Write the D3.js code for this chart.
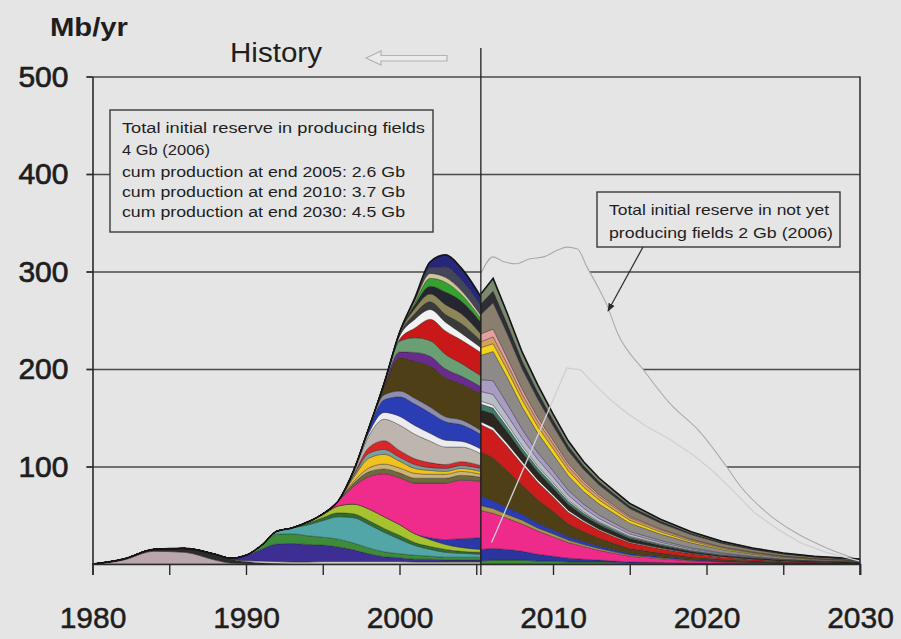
<!DOCTYPE html>
<html><head><meta charset="utf-8">
<script src="https://cdn.jsdelivr.net/npm/d3@7/dist/d3.min.js"></script>
<style>
html,body{margin:0;padding:0;background:#e5e5e5;}
svg{display:block;}
text{font-family:"Liberation Sans",Arial,sans-serif;fill:#1e1e1e;}
</style></head><body>
<svg id="chart" width="901" height="639"></svg>
<script>
// ---- producing fields, history (to end of 2005), Mb/yr, bottom of stack first ----
const histYears = [1980, 1982, 1984, 1986, 1988, 1989, 1990, 1991, 1992, 1993, 1994, 1995, 1996, 1997, 1998, 1999, 2000, 2001, 2002, 2003, 2004, 2005.3];
const hRoseGray  = [0, 4, 13, 12, 4, 1, 0.5, 0, 0, 0, 0, 0, 0, 0, 0, 0, 0, 0, 0, 0, 0, 0];
const hDark      = [0, 1, 2, 4, 6, 4, 2, 1, 0.5, 0, 0, 0, 0, 0, 0, 0, 0, 0, 0, 0, 0, 0];
const hBeige     = [0, 0, 0, 0, 0, 0, 1, 2, 2, 2, 2, 2.5, 2.5, 2.5, 2.5, 2.5, 2.5, 2, 2, 2, 2, 2];
const hNavy      = [0, 0, 0, 0, 0, 1, 5, 12, 18, 19, 18, 17, 15, 12, 8, 5, 4, 3, 3, 2, 2, 2];
const hGreen     = [0, 0, 0, 0, 0, 0, 0.5, 4, 10, 10, 9, 8, 8, 7, 6, 5, 4, 4, 3, 3, 3, 3];
const hTeal      = [0, 0, 0, 0, 0, 0, 0, 0, 3, 6, 11, 17, 23, 26, 24, 20, 15, 10, 7, 5, 4, 3];
const hDkGreen   = [0, 0, 0, 0, 0, 0, 0, 0, 0, 0, 2, 3, 4, 4, 4, 4, 4, 3, 3, 3, 2, 2];
const hLime      = [0, 0, 0, 0, 0, 0, 0, 0, 0, 0, 1, 3, 7, 10, 12, 12, 11, 9, 7, 5, 4, 3];
const hBlue2     = [0, 0, 0, 0, 0, 0, 0, 0, 0, 0, 0, 0, 0, 0, 0, 0, 0, 0, 2, 5, 9, 12];
const hPink      = [0, 0, 0, 0, 0, 0, 0, 0, 0, 0, 0, 1, 5, 18, 33, 44, 48, 52, 56, 58, 60, 58];
const hOliveGray = [0, 0, 0, 0, 0, 0, 0, 0, 0, 0, 0, 0, 0, 3, 5, 5, 5, 5, 5, 5, 5, 4];
const hTan       = [0, 0, 0, 0, 0, 0, 0, 0, 0, 0, 0, 0, 0, 2, 4, 5, 5, 5, 4, 4, 4, 3];
const hGold      = [0, 0, 0, 0, 0, 0, 0, 0, 0, 0, 0, 0, 0, 4, 10, 10, 7, 5, 4, 3, 3, 3];
const hGrayTeal  = [0, 0, 0, 0, 0, 0, 0, 0, 0, 0, 0, 0, 0, 2, 5, 5, 4, 4, 3, 3, 3, 3];
const hRed       = [0, 0, 0, 0, 0, 0, 0, 0, 0, 0, 0, 0, 0, 1, 6, 9, 7, 6, 5, 4, 4, 3];
const hLightGray = [0, 0, 0, 0, 0, 0, 0, 0, 0, 0, 0, 0, 0, 2, 12, 22, 26, 25, 22, 18, 15, 12];
const hWhite     = [0, 0, 0, 0, 0, 0, 0, 0, 0, 0, 0, 0, 0, 1, 3, 7, 9, 9, 8, 7, 6, 5];
const hBlue      = [0, 0, 0, 0, 0, 0, 0, 0, 0, 0, 0, 0, 0, 1, 4, 13, 20, 22, 21, 19, 17, 15];
const hSlate     = [0, 0, 0, 0, 0, 0, 0, 0, 0, 0, 0, 0, 0, 0, 1, 5, 6, 6, 6, 5, 5, 4];
const hOliveBrn  = [0, 0, 0, 0, 0, 0, 0, 0, 0, 0, 0, 0, 0, 0, 0, 8, 34, 38, 42, 40, 37, 38];
const hPurple    = [0, 0, 0, 0, 0, 0, 0, 0, 0, 0, 0, 0, 0, 0, 0, 2, 6, 9, 10, 9, 8, 7];
const hSage      = [0, 0, 0, 0, 0, 0, 0, 0, 0, 0, 0, 0, 0, 0, 0, 2, 11, 15, 16, 15, 13, 11];
const hRed2      = [0, 0, 0, 0, 0, 0, 0, 0, 0, 0, 0, 0, 0, 0, 0, 0, 2, 10, 22, 24, 24, 24];
const hWhite2    = [0, 0, 0, 0, 0, 0, 0, 0, 0, 0, 0, 0, 0, 0, 0, 0, 3, 9, 10, 9, 7, 5];
const hDarkGray  = [0, 0, 0, 0, 0, 0, 0, 0, 0, 0, 0, 0, 0, 0, 0, 0, 2, 6, 8, 8, 10, 7];
const hKhaki     = [0, 0, 0, 0, 0, 0, 0, 0, 0, 0, 0, 0, 0, 0, 0, 0, 1, 5, 8, 10, 10, 7];
const hCharcoal  = [0, 0, 0, 0, 0, 0, 0, 0, 0, 0, 0, 0, 0, 0, 0, 0, 1, 4, 8, 13, 13, 12];
const hBrtGreen  = [0, 0, 0, 0, 0, 0, 0, 0, 0, 0, 0, 0, 0, 0, 0, 0, 0, 2, 8, 10, 7, 4];
const hBeige2    = [0, 0, 0, 0, 0, 0, 0, 0, 0, 0, 0, 0, 0, 0, 0, 0, 0, 2, 5, 5, 4, 3];
const hDkSlate   = [0, 0, 0, 0, 0, 0, 0, 0, 0, 0, 0, 0, 0, 0, 0, 0, 0, 2, 6, 11, 11, 10];
const hNavyTop   = [0, 0, 0, 0, 0, 0, 0, 0, 0, 0, 0, 0, 0, 0, 0, 0, 0, 1, 6, 12, 12, 9];

const histSeries = [hRoseGray, hDark, hBeige, hNavy, hGreen, hTeal, hDkGreen, hLime, hBlue2, hPink,
  hOliveGray, hTan, hGold, hGrayTeal, hRed, hLightGray, hWhite, hBlue, hSlate, hOliveBrn, hPurple,
  hSage, hRed2, hWhite2, hDarkGray, hKhaki, hCharcoal, hBrtGreen, hBeige2, hDkSlate, hNavyTop];
const histColors = ["#b9a7ab", "#2c2a2c", "#d9d2c4", "#3d2e93", "#3d8c3a", "#52a6a8", "#2f6e30", "#a6c22e", "#2a38a8", "#ef2b8c",
  "#6e6a3c", "#cdb27a", "#f2c21c", "#7d9f9a", "#d8262a", "#bdb5ae", "#ececf0", "#2b3db4", "#8d8fb0", "#4e3f17", "#6a2c8c",
  "#6a9f74", "#c81818", "#f2f2f2", "#3a3a3a", "#8c8658", "#262630", "#35a12e", "#cfc79a", "#44445a", "#26267a"];

// ---- producing fields, forecast from 2006 ----
const foreYears = [2005.3, 2006.1, 2007, 2008, 2009, 2010, 2011, 2012, 2013, 2014, 2015, 2017, 2019, 2021, 2023, 2025, 2027, 2030];
const fGreen     = [3, 4, 4, 4, 3, 3, 2, 2, 2, 1.5, 1, 1, 0.5, 0.5, 0.3, 0.2, 0.2, 0.1];
const fDkBlue    = [12, 12, 11, 9, 7, 5, 4, 3, 2, 1.5, 1, 0.5, 0.3, 0.2, 0.1, 0, 0, 0];
const fPink      = [40, 36, 32, 28, 24, 20, 16, 13, 10, 8, 6, 4, 2.5, 1.5, 1, 0.5, 0.3, 0.2];
const fOliveTan  = [5, 5, 4, 4, 3, 3, 2.5, 2, 2, 1.5, 1.2, 1, 0.6, 0.4, 0.3, 0.2, 0.1, 0.1];
const fBlue      = [10, 8, 7, 6, 5, 4, 3.5, 3, 2.5, 2, 1.6, 1.2, 0.8, 0.5, 0.3, 0.2, 0.1, 0.1];
const fOliveBrn  = [45, 44, 38, 30, 24, 19, 13, 10, 8, 6.5, 5, 3.5, 2.5, 1.7, 1.2, 0.8, 0.6, 0.4];
const fRed       = [28, 28, 25, 21, 18, 15, 12, 10, 8, 7, 6, 4.5, 3.2, 2.2, 1.5, 1, 0.7, 0.4];
const fWhite     = [3, 3, 3, 3, 2.5, 2, 2, 1.5, 1.2, 1, 0.8, 0.6, 0.5, 0.4, 0.3, 0.2, 0.2, 0.1];
const fDark      = [12, 14, 12, 9, 8, 7, 6, 5, 4.5, 4, 3.5, 2.6, 2, 1.4, 1, 0.7, 0.5, 0.3];
const fTealGreen = [6, 6, 5, 4.5, 4, 3.5, 3, 2.5, 2, 1.8, 1.5, 1.1, 0.8, 0.5, 0.4, 0.3, 0.2, 0.1];
const fWhite2    = [3, 3, 3, 2.5, 2, 2, 1.6, 1.3, 1, 0.9, 0.8, 0.6, 0.4, 0.3, 0.2, 0.2, 0.1, 0.1];
const fBlueGray  = [10, 11, 9, 8, 7, 6, 5, 4, 3.5, 3, 2.5, 1.8, 1.3, 0.9, 0.6, 0.4, 0.3, 0.2];
const fLilac     = [12, 14, 12, 9, 7, 6, 5, 4, 3.5, 3, 2.5, 1.8, 1.3, 0.9, 0.6, 0.4, 0.3, 0.2];
const fGray      = [25, 30, 27, 23, 20, 17, 15, 13, 11.5, 10, 8.5, 6.5, 5, 3.5, 2.5, 1.8, 1.3, 0.8];
const fYellow    = [8, 8, 7.5, 7, 6.5, 6, 5, 4.5, 4, 3.5, 3, 2.3, 1.7, 1.2, 0.9, 0.6, 0.4, 0.3];
const fOrangeTan = [6, 7, 6.5, 6, 5.5, 5, 4.5, 4, 3.5, 3, 2.6, 2, 1.5, 1.1, 0.8, 0.6, 0.4, 0.3];
const fSalmon    = [8, 8, 6, 5, 4, 3.5, 3, 2.5, 2, 1.7, 1.4, 1, 0.7, 0.5, 0.4, 0.3, 0.2, 0.1];
const fGrayBrown = [20, 27, 25, 21, 19, 15, 13, 11.5, 10, 9, 8, 6, 4.6, 3.4, 2.5, 1.8, 1.3, 0.8];
const fCharcoal  = [11, 12, 10, 8, 7, 6, 5, 4, 3.5, 3, 2.6, 2, 1.4, 1, 0.7, 0.5, 0.4, 0.3];
const fSage      = [10, 13, 11, 9, 7.5, 6, 5, 4, 3.5, 3, 2.6, 2, 1.5, 1.1, 0.8, 0.6, 0.4, 0.3];

const foreSeries = [fGreen, fDkBlue, fPink, fOliveTan, fBlue, fOliveBrn, fRed, fWhite, fDark, fTealGreen,
  fWhite2, fBlueGray, fLilac, fGray, fYellow, fOrangeTan, fSalmon, fGrayBrown, fCharcoal, fSage];
const foreColors = ["#3f8f3a", "#2a35a0", "#ee2a8a", "#a8964c", "#2b3db4", "#4e3f17", "#cc1c1c", "#f0f0f0", "#2b2620", "#3f7a68",
  "#ededed", "#b8bcc8", "#a89cc4", "#8e8a88", "#f2d21a", "#d4a060", "#e4a0a0", "#8a7e6e", "#2e2e36", "#7b8a6e"];

// ---- not yet producing fields (outline curves) ----
const newYearsUpper = [2005.3, 2006.1, 2006.8, 2007.6, 2008.5, 2009.4, 2010.3, 2010.9, 2011.6, 2012.2, 2012.9, 2013.5, 2014.2, 2015.9, 2017.6, 2019.6, 2021.3, 2022.2, 2023.9, 2025.7, 2027.9, 2030];
const newUpper      = [298, 315, 310, 308, 313, 315, 322, 325, 323, 305, 285, 266, 237, 199, 165, 135, 100, 80, 53, 33, 16, 4];
const newYearsLower = [2006, 2010.9, 2011.8, 2012.6, 2013.7, 2014.8, 2016.1, 2017.6, 2019.2, 2020.5, 2021.8, 2023.1, 2024.6, 2026.1, 2027.8, 2030];
const newLower      = [22, 201, 199, 186, 169, 155, 141, 128, 111, 94, 74, 53, 36, 22, 12, 3];

// ---- axes, labels ----
const yTicks = [100, 200, 300, 400, 500];
const xTicks = [1980, 1985, 1990, 1995, 2000, 2005, 2010, 2015, 2020, 2025, 2030];
const historyEnd = 2005.3;
const reserveLines = ["Total initial reserve in producing fields", "4 Gb (2006)",
  "cum production at end 2005: 2.6 Gb", "cum production at end 2010: 3.7 Gb", "cum production at end 2030: 4.5 Gb"];
const newFieldLines = ["Total initial reserve in not yet", "producing fields 2 Gb (2006)"];

const BG = "#e5e5e5";
const svg = d3.select("#chart");
svg.append("rect").attr("width", 901).attr("height", 639).attr("fill", BG);

const x = d3.scaleLinear().domain([1980, 2030]).range([92.5, 860]);
const y = d3.scaleLinear().domain([0, 500]).range([564, 76.5]);

// horizontal gridlines (with the short outside tick on the left)
const grid = svg.append("g").attr("transform", `translate(${x(1980)},0)`)
  .call(d3.axisLeft(y).tickValues(yTicks).tickSize(-(x(2030) - x(1980))).tickSizeOuter(0).tickFormat(""));
grid.select(".domain").remove();
grid.selectAll(".tick line").attr("stroke", "#4a4a4a").attr("stroke-width", 1.5).attr("x1", -6);

// area of fields not yet producing, painted in the page colour so it hides the grid
const upperArea = d3.area().curve(d3.curveMonotoneX)
  .x((d, i) => x(newYearsUpper[i])).y0(y(0)).y1(d => y(d));
svg.append("path").datum(newUpper).attr("d", upperArea).attr("fill", BG);
svg.append("path").datum(newUpper)
  .attr("d", d3.line().curve(d3.curveMonotoneX).x((d, i) => x(newYearsUpper[i])).y(d => y(d)))
  .attr("fill", "none").attr("stroke", "#ababab").attr("stroke-width", 1.1);

// stacked producing fields
function drawStack(years, series, colors, curve) {
  const stack = d3.stack().keys(d3.range(series.length)).value((i, k) => series[k][i])(d3.range(years.length));
  const area = d3.area().curve(curve)
    .x(d => x(years[d.data])).y0(d => y(d[0])).y1(d => y(d[1]));
  const g = svg.append("g");
  g.selectAll("path").data(stack).join("path")
    .attr("d", area).attr("fill", (d, k) => colors[k])
    .attr("stroke", "#1c1c1c").attr("stroke-width", 0.45).attr("stroke-opacity", 0.75);
  const top = stack[stack.length - 1];
  g.append("path").datum(top)
    .attr("d", d3.line().curve(curve).x(d => x(years[d.data])).y(d => y(d[1])))
    .attr("fill", "none").attr("stroke", "#151515").attr("stroke-width", 1.6);
}
drawStack(histYears, histSeries, histColors, d3.curveMonotoneX);
drawStack(foreYears, foreSeries, foreColors, d3.curveLinear);

// lower outline of the not-yet-producing fields
svg.append("path").datum(newLower)
  .attr("d", d3.line().x((d, i) => x(newYearsLower[i])).y(d => y(d)))
  .attr("fill", "none").attr("stroke", "#cfcfd6").attr("stroke-width", 1.3);

// axes
const xAxis = svg.append("g").attr("transform", `translate(0,${y(0)})`)
  .call(d3.axisBottom(x).tickValues(xTicks).tickSize(11).tickPadding(32)
    .tickFormat(d => d % 10 === 0 ? String(d) : ""));
xAxis.select(".domain").attr("stroke", "#2a2a2a").attr("stroke-width", 1.6);
xAxis.selectAll(".tick line").attr("stroke", "#2a2a2a").attr("stroke-width", 1.4);
xAxis.selectAll(".tick text").attr("font-size", 30).attr("fill", "#1e1e1e")
  .attr("stroke", "#1e1e1e").attr("stroke-width", 0.5)
  .style("font-family", "'Liberation Sans', Arial, sans-serif");

const yAxis = svg.append("g").attr("transform", `translate(${x(1980)},0)`)
  .call(d3.axisLeft(y).tickValues(yTicks).tickSize(6).tickSizeOuter(0).tickPadding(18));
yAxis.select(".domain").attr("stroke", "#2a2a2a").attr("stroke-width", 1.6);
yAxis.selectAll(".tick line").attr("stroke", "#2a2a2a").attr("stroke-width", 1.4);
yAxis.selectAll(".tick text").attr("font-size", 30).attr("fill", "#1e1e1e")
  .attr("stroke", "#1e1e1e").attr("stroke-width", 0.7)
  .style("font-family", "'Liberation Sans', Arial, sans-serif");

// right frame
svg.append("line").attr("x1", x(2030)).attr("x2", x(2030)).attr("y1", y(500)).attr("y2", y(0) + 11)
  .attr("stroke", "#2a2a2a").attr("stroke-width", 1.5);

// history / forecast divider
svg.append("line").attr("x1", x(historyEnd)).attr("x2", x(historyEnd)).attr("y1", 48).attr("y2", y(0) + 11)
  .attr("stroke", "#1e1e1e").attr("stroke-width", 1.3);

// unit label and "History" marker
svg.append("text").attr("x", 50).attr("y", 36).attr("font-size", 25).attr("font-weight", "bold")
  .attr("textLength", 78).attr("lengthAdjust", "spacingAndGlyphs").text("Mb/yr");
svg.append("text").attr("x", 230).attr("y", 62).attr("font-size", 27)
  .attr("textLength", 92).attr("lengthAdjust", "spacingAndGlyphs").text("History");
svg.append("path")
  .attr("d", "M366,58 L381,51 L381,55.5 L447,55.5 L447,61 L381,61 L381,65 Z")
  .attr("fill", "#ebebeb").attr("stroke", "#b3b3b3").attr("stroke-width", 1.2);

// reserve box for producing fields
svg.append("rect").attr("x", 110).attr("y", 110).attr("width", 323).attr("height", 122)
  .attr("fill", BG).attr("stroke", "#3a3a3a").attr("stroke-width", 1.4);
const leftBase = [133, 155, 177, 197, 217];
const leftLen = [303, 88, 283, 283, 283];
svg.append("g").selectAll("text").data(reserveLines).join("text")
  .attr("x", 122).attr("y", (d, i) => leftBase[i]).attr("font-size", 14)
  .attr("textLength", (d, i) => leftLen[i]).attr("lengthAdjust", "spacingAndGlyphs")
  .text(d => d);

// reserve box for fields not yet producing
svg.append("rect").attr("x", 597).attr("y", 192).attr("width", 243).attr("height", 55)
  .attr("fill", BG).attr("stroke", "#3a3a3a").attr("stroke-width", 1.4);
const rightBase = [214.5, 238];
const rightLen = [220, 224];
svg.append("g").selectAll("text").data(newFieldLines).join("text")
  .attr("x", 609).attr("y", (d, i) => rightBase[i]).attr("font-size", 14.5)
  .attr("textLength", (d, i) => rightLen[i]).attr("lengthAdjust", "spacingAndGlyphs")
  .text(d => d);

// pointer from the box to the outline curve
svg.append("defs").append("marker").attr("id", "head").attr("viewBox", "0 0 10 10")
  .attr("refX", 9).attr("refY", 5).attr("markerWidth", 7).attr("markerHeight", 7).attr("orient", "auto")
  .append("path").attr("d", "M0,1 L10,5 L0,9 Z").attr("fill", "#2a2a2a");
svg.append("line").attr("x1", 643).attr("y1", 247).attr("x2", 608).attr("y2", 311)
  .attr("stroke", "#2a2a2a").attr("stroke-width", 1.2).attr("marker-end", "url(#head)");
</script>
</body></html>
